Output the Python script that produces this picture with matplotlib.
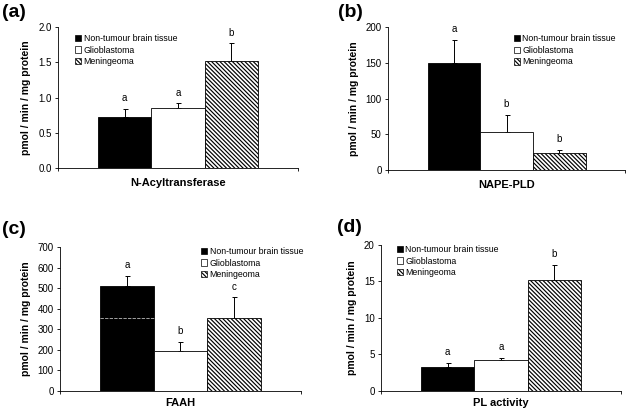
import matplotlib
matplotlib.use("Agg")
import matplotlib.pyplot as plt
from matplotlib.patches import Patch

plt.rcParams["font.family"] = ["Liberation Sans", "DejaVu Sans"]
plt.rcParams["hatch.linewidth"] = 0.85

# ------------------------------------------------------------------ #
# Data                                                                 #
# ------------------------------------------------------------------ #
groups = ["Non-tumour brain tissue", "Glioblastoma", "Meningeoma"]

acyl_means = [0.72, 0.85, 1.52]
acyl_errs = [0.12, 0.07, 0.25]
acyl_letters = ["a", "a", "b"]

nape_means = [149, 53, 24]
nape_errs = [33, 24, 4]
nape_letters = ["a", "b", "b"]

faah_means = [510, 195, 355]
faah_errs = [50, 45, 100]
faah_letters = ["a", "b", "c"]

pl_means = [3.3, 4.2, 15.2]
pl_errs = [0.6, 0.3, 2.1]
pl_letters = ["a", "a", "b"]

panels = [
    # tag, xlabel, means, errs, letters, ymax, ystep, fmt
    ("(a)", "N-Acyltransferase", acyl_means, acyl_errs, acyl_letters, 2.0, 0.5, "{:.1f}"),
    ("(b)", "NAPE-PLD", nape_means, nape_errs, nape_letters, 200, 50, "{:.0f}"),
    ("(c)", "FAAH", faah_means, faah_errs, faah_letters, 700, 100, "{:.0f}"),
    ("(d)", "PL activity", pl_means, pl_errs, pl_letters, 20, 5, "{:.0f}"),
]

# layout (figure fractions) -----------------------------------------
axes_rect = [
    [0.0922, 0.5932, 0.3816, 0.3414],
    [0.6169, 0.5884, 0.3768, 0.3462],
    [0.0954, 0.0533, 0.3830, 0.3487],
    [0.6057, 0.0533, 0.3816, 0.3535],
]
tag_pos = [(0.003, 0.99), (0.538, 0.99), (0.003, 0.465), (0.536, 0.47)]
legend_anchor = [(0.07, 0.95), (0.53, 0.95), (0.585, 1.0), (0.065, 1.0)]
xlabel_pad = [3, 3, 0.5, 0.5]

face = ["black", "white", "white"]
hatch = [None, None, "\\\\\\\\\\\\\\\\"]

fig = plt.figure(figsize=(6.29, 4.13), dpi=100)

for (tag, xlab, means, errs, letters, ymax, ystep, fmt), rect, tp, la, lp in zip(
        panels, axes_rect, tag_pos, legend_anchor, xlabel_pad):
    ax = fig.add_axes(rect)
    xs = [0, 1, 2]
    for x, m, fc, h in zip(xs, means, face, hatch):
        ax.bar(x, m, width=1.0, color=fc, edgecolor="black", linewidth=0.6,
               hatch=h, zorder=2)
    ax.errorbar(xs, means, yerr=[[0, 0, 0], errs], fmt="none",
                ecolor="black", elinewidth=0.7, capsize=1.8, capthick=0.7,
                zorder=1)
    for x, m, e, l in zip(xs, means, errs, letters):
        ax.text(x, m + e + 0.075 * ymax, l, ha="center", va="center",
                fontsize=7)

    if tag == "(c)":
        # faint scan line across the black bar at the meningeoma level
        ax.hlines(means[2], -0.5, 0.5, colors="#bbbbbb", linewidth=0.6,
                  linestyles=(0, (4, 1.5)), zorder=3)

    ax.set_xlim(-1.25, 3.25)
    ax.set_ylim(0, ymax)
    ticks = [i * ystep for i in range(int(round(ymax / ystep)) + 1)]
    ax.set_yticks(ticks)
    ax.set_yticklabels([fmt.format(t) for t in ticks], fontsize=7)
    ax.set_xticks([-1.25, 3.25])
    ax.set_xticklabels([])
    ax.tick_params(axis="both", direction="out", length=2.5, width=0.6, pad=2)
    for s in ("top", "right"):
        ax.spines[s].set_visible(False)
    for s in ("left", "bottom"):
        ax.spines[s].set_linewidth(0.6)

    ax.set_ylabel("pmol / min / mg protein", fontsize=7.5, fontweight="bold",
                  labelpad=5)
    ax.set_xlabel(xlab, fontsize=8, fontweight="bold", labelpad=lp)

    handles = [Patch(facecolor=fc, edgecolor="black", linewidth=0.5, hatch=h)
               for fc, h in zip(face, hatch)]
    ax.legend(handles, groups, loc="upper left", bbox_to_anchor=la,
              frameon=False, fontsize=6.3, handlelength=0.75,
              handleheight=0.75, handletextpad=0.25, labelspacing=0.3,
              borderpad=0, borderaxespad=0)

    fig.text(tp[0], tp[1], tag, fontsize=14, fontweight="bold",
             ha="left", va="top")

fig.savefig("out.png", dpi=100)
